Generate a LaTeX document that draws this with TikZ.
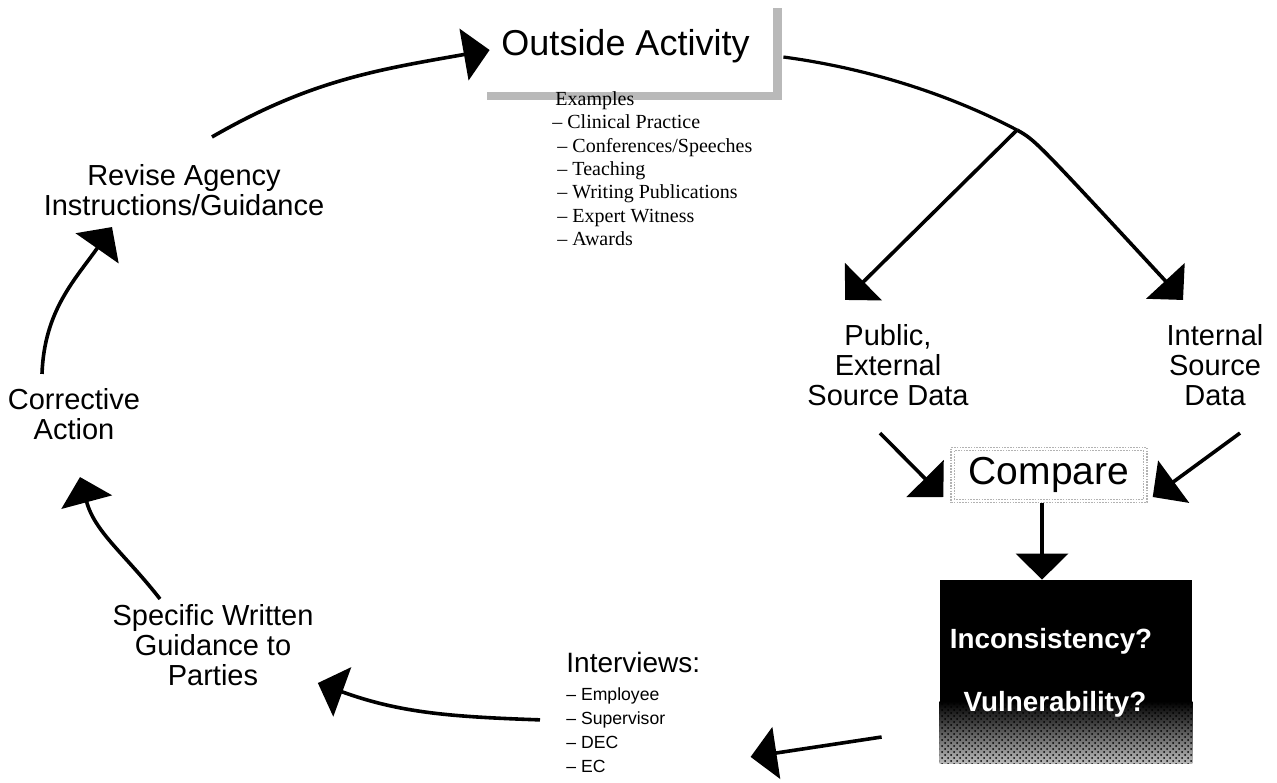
\documentclass[tikz,border=0pt]{standalone}
\usepackage{fontspec}
\setmainfont{Liberation Sans}
\newfontfamily\serifnotes[Ligatures=TeX]{Liberation Serif}
\usetikzlibrary{arrows.meta,positioning,calc,shadows,patterns}

\begin{document}
\begin{tikzpicture}[
		x=0.5pt,y=-0.5pt,
		arr/.style={-{Triangle[length=13pt,width=26pt]},line width=1.8pt},
		label/.style={align=center,inner sep=0pt,font=\fontsize{14.5}{15}\selectfont},
		actbox/.style={fill=white,minimum width=147.5pt,minimum height=46pt,font=\fontsize{18}{18}\selectfont,
			drop shadow={fill=gray!55,opacity=1,shadow xshift=4.5pt,shadow yshift=-4pt}},
		cmpbox/.style={draw=gray!60,dash pattern=on 0.8pt off 0.6pt,line width=0.7pt,minimum width=98pt,minimum height=27.5pt,
			font=\fontsize{19.5}{19.5}\selectfont},
		alertbox/.style={fill=black,minimum width=126pt,minimum height=91.5pt,inner sep=0pt},
		alerttext/.style={text=white,font=\fontsize{13.9}{13.9}\selectfont\bfseries},
		smalllist/.style={align=left,inner sep=0pt,font=\fontsize{8.8}{12}\selectfont}
		]
		
		\useasboundingbox (0,0) rectangle (1277,782);
		
		% top of the cycle
		\node[actbox] (act) at (625.5,46) {Outside Activity};
		\node[anchor=north west,align=left,inner sep=0pt,font=\serifnotes\fontsize{10}{11.7}\selectfont] (ex) at (555,91)
			{Examples\\\hspace*{-1.5pt}-- Clinical Practice\\\hspace*{1pt}-- Conferences/Speeches\\\hspace*{1pt}-- Teaching\\
			 \hspace*{1pt}-- Writing Publications\\\hspace*{1pt}-- Expert Witness\\\hspace*{1pt}-- Awards};
		
		% data sources
		\node[label] (pub) at (888,365) {Public,\\External\\Source Data};
		\node[label] (int) at (1215,365) {Internal\\Source\\Data};
		\node[cmpbox] (cmp) at (1049,475) {Compare};
		\draw[gray!60,dash pattern=on 0.8pt off 0.6pt,line width=0.5pt]
			([shift={(2pt,-2pt)}]cmp.north west) rectangle ([shift={(-2pt,2pt)}]cmp.south east);
		
		% result box, flames along the bottom
		\node[alertbox] (alert) at (1066,671.5) {};
		\shade[top color=black,bottom color=gray!55] ($(alert.south west)+(0,-62)$) rectangle (alert.south east);
		\fill[pattern=crosshatch dots,pattern color=black] ($(alert.south west)+(0,-62)$) rectangle (alert.south east);
		\node[alerttext] (inc) at ($(alert.center)+(-15,-30)$) {Inconsistency?};
		\node[alerttext] (vul) at ($(alert.center)+(-11,33)$) {Vulnerability?};
		
		% follow-up
		\node[anchor=base west,inner sep=0pt,font=\fontsize{14}{14}\selectfont] (intv) at (566,672) {Interviews:};
		\node[smalllist,anchor=north west] (intvlist) at (566,687) {-- Employee\\-- Supervisor\\-- DEC\\-- EC};
		\node[label] (spec) at (213,645) {Specific Written\\Guidance to\\Parties};
		\node[label] (corr) at (74,414) {Corrective\\Action};
		\node[label] (rev) at (184,190) {Revise Agency\\Instructions/Guidance};
		
		% branch to the two sources
		\coordinate (fork) at (1017,130);
		\draw[line width=1.6pt] ([xshift=5pt,yshift=-5.5pt]act.east) .. controls (880,70) and (960,100) .. (fork);
		\draw[arr] (fork) -- ([xshift=-21.5pt,yshift=12pt]pub.north);
		\draw[arr] (fork) .. controls (1035,140) .. ([xshift=-16pt,yshift=12pt]int.north);
		
		\draw[arr] ([xshift=-4pt,yshift=-13.5pt]pub.south) -- ([xshift=-3.5pt,yshift=-11pt]cmp.west);
		\draw[arr] ([xshift=12.5pt,yshift=-13.5pt]int.south) -- ([xshift=2.5pt,yshift=-11pt]cmp.east);
		\draw[arr] ([xshift=-3.5pt]cmp.south) -- ([xshift=-12pt]alert.north);
		
		% back round the cycle
		\draw[arr] ([xshift=-29pt,yshift=-32.75pt]alert.west) -- ([xshift=42.5pt,yshift=-13.5pt]intvlist.east);
		\draw[arr] ([xshift=-13pt,yshift=5pt]intvlist.west) to[out=178,in=-20] ([xshift=2pt,yshift=-19pt]spec.east);
		\draw[arr] ([xshift=-26.5pt,yshift=2.5pt]spec.north) to[out=128,in=-75] ([xshift=3pt,yshift=-18.5pt]corr.south);
		\draw[arr] ([xshift=-16pt,yshift=7pt]corr.north) to[out=88,in=-125] ([xshift=-36pt,yshift=-5.5pt]rev.south);
		\draw[arr] ([xshift=14pt,yshift=13.5pt]rev.north) to[out=30,in=190] ([xshift=6pt,yshift=-2pt]act.west);
		
	\end{tikzpicture}
\end{document}
